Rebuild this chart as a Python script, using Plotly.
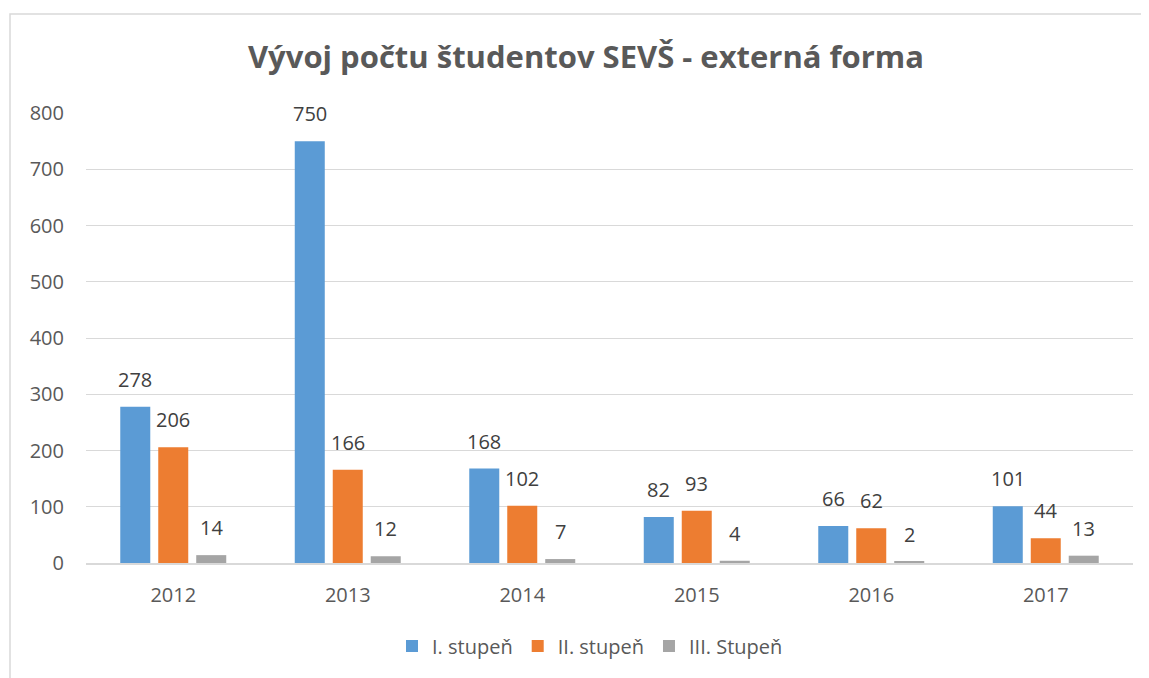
import plotly.graph_objects as go

roky = ['2012', '2013', '2014', '2015', '2016', '2017']
stupen_1 = [278, 750, 168, 82, 66, 101]
stupen_2 = [206, 166, 102, 93, 62, 44]
stupen_3 = [14, 12, 7, 4, 2, 13]
nazvy = ['I. stupeň', 'II. stupeň', 'III. Stupeň']
farby = ['#5B9BD5', '#ED7D31', '#A5A5A5']

# stránka má okraj 8 px, preto je všetko posunuté
O = 8
W, H = 1149, 678
L, R, T, B = 86 - O, 16 + O, 113 - O, 115 + O
pw, ph = W - L - R, H - T - B

fig = go.Figure()
for i, (nazov, hodnoty) in enumerate(zip(nazvy, [stupen_1, stupen_2, stupen_3])):
    fig.add_trace(go.Bar(x=roky, y=hodnoty, name=nazov, marker_color=farby[i],
                         marker_line_width=0))
    # popisky hodnôt nad stĺpcami (x = poradie kategórie)
    for j, v in enumerate(hodnoty):
        fig.add_annotation(x=j, y=v, text=str(v), showarrow=False, xshift=(i - 1) * 38,
                           yanchor='bottom', yshift=12, font={'size': 20, 'color': '#404040'})

# rám grafu (ako v Exceli)
fig.add_shape(type='rect', xref='paper', yref='paper', layer='below',
              x0=(10 - O - L) / pw, x1=(W + 20 - L) / pw, y0=(H - B - H - 20) / ph,
              y1=(H - B - (14 - O)) / ph,
              line={'color': '#D9D9D9', 'width': 1.5}, fillcolor='rgba(0,0,0,0)')

fig.update_layout(
    width=W, height=H,
    title={'text': '<b>Vývoj počtu študentov SEVŠ - externá forma</b>', 'x': (586 - O) / W,
           'xanchor': 'center', 'y': 1 - (57 - O) / H, 'yanchor': 'middle',
           'font': {'size': 31, 'color': '#595959'}},
    font={'family': 'Open Sans', 'size': 20, 'color': '#595959'},
    plot_bgcolor='white', paper_bgcolor='white',
    margin={'l': L, 'r': R, 't': T, 'b': B},
    barmode='group', bargap=0.347, bargroupgap=0.21,
    yaxis={'range': [0, 800], 'dtick': 100, 'gridcolor': '#D9D9D9', 'gridwidth': 1,
           'zeroline': False, 'showline': False, 'ticklabelstandoff': 21, 'fixedrange': True},
    xaxis={'type': 'category', 'range': [-0.5, len(roky) - 0.5], 'showline': True,
           'linecolor': '#D9D9D9', 'linewidth': 1.5, 'ticklabelstandoff': 13, 'showgrid': False},
    legend={'orientation': 'h', 'x': (590 - O - L) / pw, 'xanchor': 'center',
            'y': (H - B - (646 - O)) / ph, 'yanchor': 'middle',
            'font': {'size': 20, 'color': '#595959'}, 'itemwidth': 30},
    showlegend=True,
)

fig.write_html('out.html')
